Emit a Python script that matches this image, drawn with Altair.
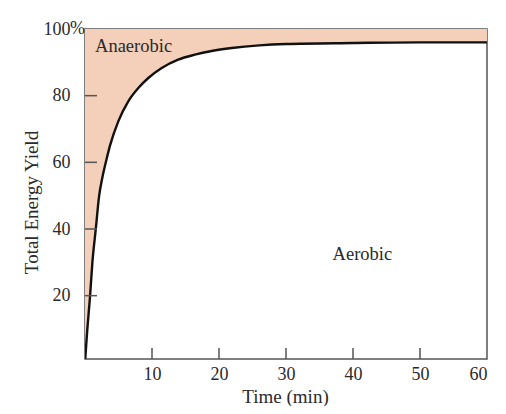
import altair as alt
import pandas as pd

# Curve: time (min) vs total energy yield (%)
time_min = [0, 0.34, 0.75, 1.1, 1.6, 2.1, 2.6, 3.2, 3.73, 4.97, 6.46, 7.96, 9.45,
            11.45, 13.9, 16.4, 18.9, 21.9, 26, 30, 40, 50, 60]
yield_pct = [0, 9.8, 19.7, 29.9, 39.8, 49.8, 55.5, 60.8, 65.0, 72.3, 78.3, 82.3, 85.3,
             88.3, 90.8, 92.3, 93.4, 94.3, 95.1, 95.5, 95.8, 96, 96]

x_ticks = [10, 20, 30, 40, 50, 60]
y_ticks = [20, 40, 60, 80, 100]

label_text = ["Anaerobic", "Aerobic"]
label_t = [1.5, 41.4]
label_y = [95.0, 32.5]
label_align = ["left", "center"]

W, H = 402, 330
FONT = "Liberation Serif"
FILL = "#f4cfba"
INK = "#2a2a2a"
FRAME = "#555555"

curve = pd.DataFrame({"t": time_min, "y": yield_pct})
labels = pd.DataFrame({"text": label_text, "t": label_t, "y": label_y, "align": label_align})
yt = pd.DataFrame({"v": [v for v in y_ticks if v < 100]})
xt = pd.DataFrame({"v": [v for v in x_ticks if v < 60]})

xscale = alt.Scale(domain=[0, 60], nice=False, zero=False)
yscale = alt.Scale(domain=[1, 100], nice=False, zero=False)

xaxis = alt.Axis(values=x_ticks, ticks=False, domain=False, grid=False,
                 labelPadding=6, labelFontSize=18, labelFont=FONT, labelColor=INK,
                 title="Time (min)", titleFont=FONT, titleFontSize=19,
                 titleFontWeight="normal", titleColor=INK,
                 titleX=200, titleY=37, titleBaseline="middle")
yaxis = alt.Axis(values=y_ticks, ticks=False, domain=False, grid=False,
                 labelPadding=15, labelFontSize=18, labelFont=FONT, labelColor=INK,
                 labelExpr="datum.value == 100 ? '100' : datum.label",
                 title="Total Energy Yield", titleFont=FONT, titleFontSize=19,
                 titleFontWeight="normal", titleColor=INK,
                 titleX=-54, titleY=173, titleAngle=270, titleAlign="center",
                 titleBaseline="middle")

base = alt.Chart(curve)

area = base.mark_area(color=FILL, opacity=1, interpolate="monotone", clip=True).encode(
    x=alt.X("t:Q", scale=xscale, axis=xaxis),
    y=alt.Y("y:Q", scale=yscale, axis=yaxis),
    y2=alt.datum(100),
)

line = base.mark_line(color="#111111", strokeWidth=2.4, interpolate="monotone", clip=True).encode(
    x=alt.X("t:Q", scale=xscale),
    y=alt.Y("y:Q", scale=yscale),
)

yticks = alt.Chart(yt).mark_rule(color=FRAME, strokeWidth=1.5).encode(
    y=alt.Y("v:Q", scale=yscale),
    x=alt.value(0),
    x2=alt.value(12),
)

xticks = alt.Chart(xt).mark_rule(color=FRAME, strokeWidth=1.5).encode(
    x=alt.X("v:Q", scale=xscale),
    y=alt.value(H),
    y2=alt.value(H - 11),
)

pct = alt.Chart(pd.DataFrame({"v": [100], "s": ["%"]})).mark_text(
    font=FONT, fontSize=18, color=INK, align="left", baseline="middle"
).encode(
    y=alt.Y("v:Q", scale=yscale),
    x=alt.value(-15),
    text="s:N",
)

txt_left = alt.Chart(labels[labels["align"] == "left"]).mark_text(
    font=FONT, fontSize=18.5, color=INK, align="left", baseline="middle"
).encode(
    x=alt.X("t:Q", scale=xscale),
    y=alt.Y("y:Q", scale=yscale),
    text="text:N",
)
txt_center = alt.Chart(labels[labels["align"] == "center"]).mark_text(
    font=FONT, fontSize=18.5, color=INK, align="center", baseline="middle"
).encode(
    x=alt.X("t:Q", scale=xscale),
    y=alt.Y("y:Q", scale=yscale),
    text="text:N",
)

chart = alt.layer(area, line, yticks, xticks, pct, txt_left, txt_center).properties(
    width=W, height=H,
    autosize=alt.AutoSizeParams(type="none"),
    padding={"left": 77, "top": 21, "right": 11, "bottom": 47},
    background="white",
).configure_view(stroke=FRAME, strokeWidth=1.5)

chart.save("out.html", embed_options={"renderer": "svg", "actions": False})
